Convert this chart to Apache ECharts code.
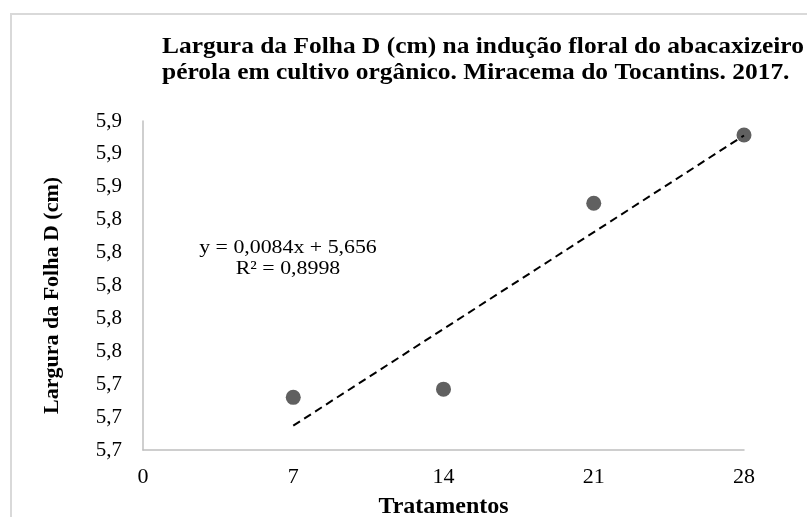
<!DOCTYPE html>
<html lang="pt">
    <head>
        <meta charset="utf-8">
        <script src="https://cdn.jsdelivr.net/npm/echarts@6/dist/echarts.min.js"></script>
    </head>
    <body style="margin:0">
    <div id="main" style="width:807px;height:517px"></div>
    <script type="text/javascript">
    var myChart = echarts.init(document.getElementById("main"));

    // dados
    var tratamentos = [7, 14, 21, 28];
    var largura = [5.732, 5.737, 5.850, 5.8915];
    var trendX = [7, 28];
    var trendY = [5.7148, 5.8912];   // y = 0,0084x + 5,656
    var xTicks = [0, 7, 14, 21, 28];
    var equacao = ['y = 0,0084x + 5,656', 'R² = 0,8998'];
    var titulo = 'Largura da Folha D (cm) na indução floral do abacaxizeiro\npérola em cultivo orgânico. Miracema do Tocantins. 2017.';

    var fonte = '"Liberation Serif", "Times New Roman", serif';

    var pontos = [];
    for (var i = 0; i < tratamentos.length; i++) {
        pontos.push([tratamentos[i], largura[i]]);
    }
    var linha = [];
    for (var j = 0; j < trendX.length; j++) {
        linha.push([trendX[j], trendY[j]]);
    }

    option = {
        animation: false,
        backgroundColor: '#fff',
        graphic: [
            {
                type: 'rect',
                shape: {x: 11, y: 14, width: 900, height: 600},
                style: {fill: 'none', stroke: '#d9d9d9', lineWidth: 2}
            },
            {
                type: 'text',
                x: 162,
                y: 34,
                scaleX: 1.06,
                style: {
                    text: titulo,
                    font: 'bold 24px ' + fonte,
                    lineHeight: 26,
                    fill: '#000'
                }
            },
            {
                type: 'text',
                x: 288,
                y: 238,
                scaleX: 1.15,
                style: {
                    text: equacao[0] + '\n' + equacao[1],
                    font: '19px ' + fonte,
                    lineHeight: 21,
                    align: 'center',
                    fill: '#000'
                }
            }
        ],
        grid: {
            left: 143,
            right: 63,
            top: 121,
            bottom: 67,
            outerBoundsMode: 'none',
            containLabel: false
        },
        xAxis: {
            type: 'value',
            min: 0,
            max: 28,
            interval: 7,
            name: 'Tratamentos',
            nameLocation: 'middle',
            nameGap: 45,
            nameTextStyle: {fontFamily: fonte, fontWeight: 'bold', fontSize: 24, color: '#000'},
            splitLine: {show: false},
            axisTick: {show: false},
            axisLine: {lineStyle: {color: '#bfbfbf', width: 1.5}},
            axisLabel: {
                fontFamily: fonte, fontSize: 22, color: '#000', margin: 16,
                formatter: function (v) { return xTicks.indexOf(v) >= 0 ? String(v) : ''; }
            }
        },
        yAxis: {
            type: 'value',
            min: 5.70,
            max: 5.90,
            interval: 0.02,
            name: 'Largura da Folha D (cm)',
            nameLocation: 'middle',
            nameGap: 80,
            nameRotate: 90,
            nameTextStyle: {
                fontFamily: fonte, fontWeight: 'bold', fontSize: 22, color: '#000',
                padding: [0, 20, 0, 0]
            },
            splitLine: {show: false},
            axisTick: {show: false},
            axisLine: {show: true, lineStyle: {color: '#bfbfbf', width: 1.5}},
            axisLabel: {
                fontFamily: fonte, fontSize: 21, color: '#000', margin: 21,
                formatter: function (v) { return v.toFixed(1).replace('.', ','); }
            }
        },
        series: [
            {
                name: 'tendência',
                type: 'line',
                data: linha,
                symbol: 'none',
                lineStyle: {color: '#000', width: 2, type: [8, 5]},
                z: 3
            },
            {
                name: 'Largura',
                type: 'scatter',
                data: pontos,
                symbolSize: 15,
                itemStyle: {color: '#606060', opacity: 1},
                z: 2
            }
        ]
    };

    myChart.setOption(option);
    </script>
    </body>
</html>
